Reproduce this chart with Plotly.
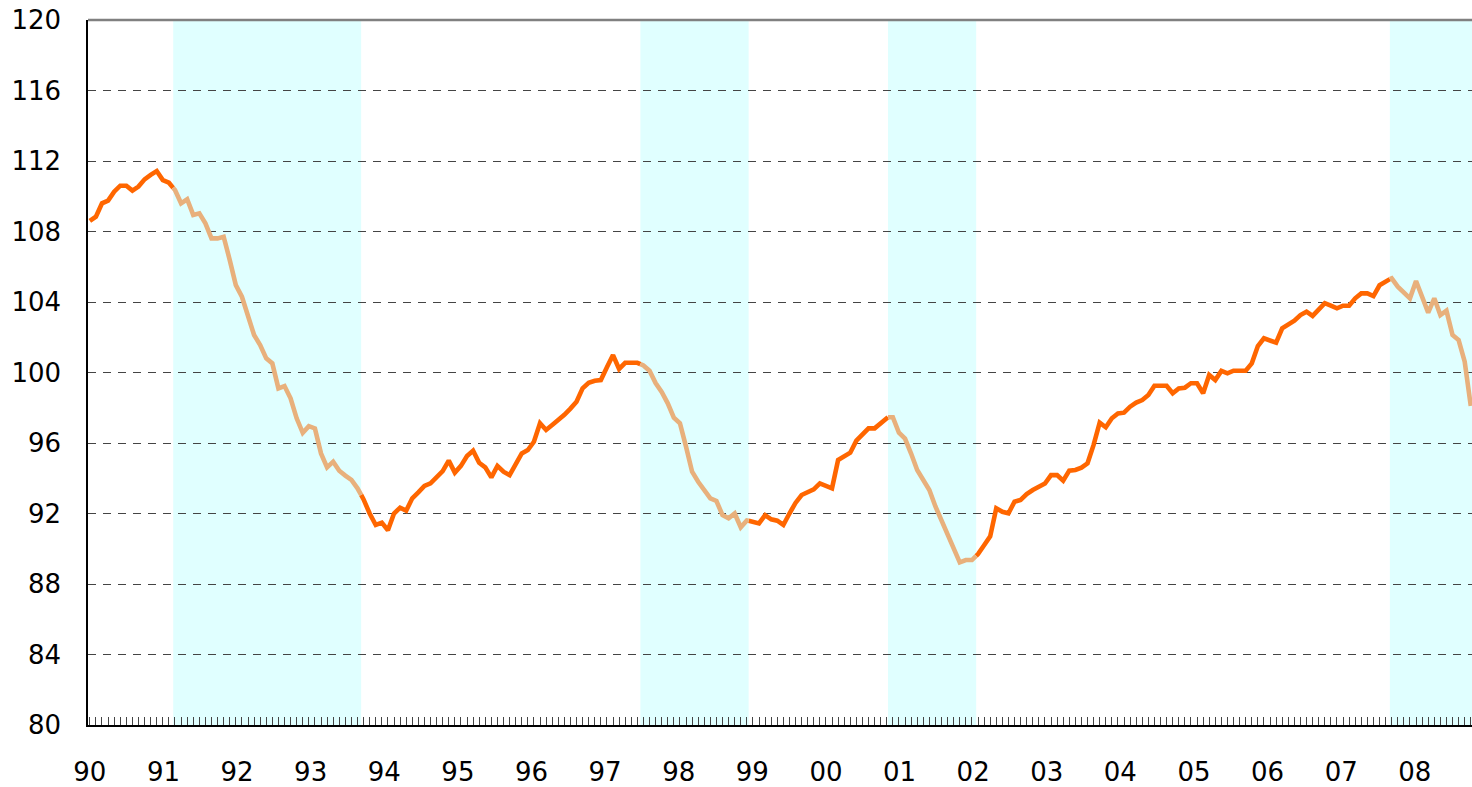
import numpy as np
import plotly.graph_objects as go

# Composite index, monthly, Jan 1990 - Dec 2008 (index 0 = 1990-01)
values = [
    108.6, 108.84, 109.6, 109.75, 110.26, 110.6, 110.6, 110.32, 110.55, 110.96, 111.21, 111.43,   # 1990
    110.92, 110.77, 110.35, 109.6, 109.83, 108.94, 109.03, 108.46, 107.61, 107.61, 107.7, 106.38,  # 1991
    104.96, 104.3, 103.17, 102.13, 101.56, 100.8, 100.52, 99.1, 99.23, 98.54, 97.4, 96.58,         # 1992
    96.96, 96.83, 95.41, 94.62, 94.94, 94.43, 94.15, 93.9, 93.43, 92.8, 92.0, 91.35,               # 1993
    91.48, 91.05, 92.0, 92.33, 92.16, 92.86, 93.2, 93.56, 93.71, 94.05, 94.4, 95.0,                # 1994
    94.32, 94.7, 95.26, 95.56, 94.88, 94.62, 94.05, 94.7, 94.37, 94.18, 94.8, 95.41,               # 1995
    95.6, 96.07, 97.12, 96.74, 97.02, 97.3, 97.6, 97.95, 98.34, 99.1, 99.42, 99.53,                # 1996
    99.57, 100.3, 100.99, 100.2, 100.55, 100.55, 100.55, 100.4, 100.1, 99.4, 98.9, 98.25,          # 1997
    97.44, 97.12, 95.79, 94.37, 93.8, 93.33, 92.86, 92.71, 91.91, 91.73, 92.0, 91.22,              # 1998
    91.6, 91.55, 91.44, 91.91, 91.67, 91.59, 91.35, 92.0, 92.6, 93.05, 93.24, 93.37,               # 1999
    93.71, 93.55, 93.43, 95.04, 95.25, 95.45, 96.13, 96.5, 96.83, 96.83, 97.15, 97.46,             # 2000
    97.46, 96.58, 96.25, 95.4, 94.47, 93.9, 93.33, 92.4, 91.6, 90.75, 89.87, 89.23,                # 2001
    89.36, 89.36, 89.7, 90.2, 90.7, 92.3, 92.1, 92.01, 92.67, 92.77, 93.1, 93.33,                  # 2002
    93.5, 93.7, 94.18, 94.18, 93.86, 94.43, 94.47, 94.6, 94.85, 95.89, 97.15, 96.89,               # 2003
    97.4, 97.68, 97.72, 98.06, 98.29, 98.44, 98.72, 99.25, 99.25, 99.25, 98.82, 99.1,              # 2004
    99.14, 99.39, 99.39, 98.82, 99.86, 99.57, 100.09, 99.95, 100.1, 100.1, 100.1, 100.52,          # 2005
    101.5, 101.94, 101.84, 101.69, 102.51, 102.7, 102.94, 103.26, 103.45, 103.21, 103.55, 103.93,  # 2006
    103.79, 103.64, 103.79, 103.79, 104.21, 104.49, 104.49, 104.34, 104.95, 105.2, 105.34, 104.87, # 2007
    104.5, 104.21, 105.19, 104.21, 103.4, 104.21, 103.26, 103.51, 102.13, 101.84, 100.61, 98.1,    # 2008
]

year_labels = ["90", "91", "92", "93", "94", "95", "96", "97", "98", "99",
               "00", "01", "02", "03", "04", "05", "06", "07", "08"]

# Recession periods (shaded), in month-index units
rec_start = [13.7, 90.5, 131.2, 213.7]
rec_end = [44.6, 108.3, 145.7, 227.5]

x = np.arange(len(values))
y = np.array(values)
last = x[-1]


def segment(s, e):
    s = max(s, 0)
    e = min(e, last)
    pts = [s] + [int(i) for i in x if s < i < e] + [e]
    return pts, list(np.interp(pts, x, y))


rx, ry = [], []
for s, e in zip(rec_start, rec_end):
    px, py = segment(s, e)
    rx += px + [None]
    ry += py + [None]

exp_bounds = [(0, rec_start[0])] + [(rec_end[i], rec_start[i + 1]) for i in range(len(rec_start) - 1)]
if rec_end[-1] < last:
    exp_bounds.append((rec_end[-1], last))
ex, ey = [], []
for s, e in exp_bounds:
    px, py = segment(s, e)
    ex += px + [None]
    ey += py + [None]

fig = go.Figure()
fig.add_trace(go.Scatter(x=ex, y=ey, mode="lines",
                         line=dict(color="#FF6600", width=4.6), hoverinfo="skip"))
fig.add_trace(go.Scatter(x=rx, y=ry, mode="lines",
                         line=dict(color="#E8B07C", width=4.6), hoverinfo="skip"))

for s, e in zip(rec_start, rec_end):
    fig.add_shape(type="rect", xref="x", yref="paper", x0=s, x1=e, y0=0, y1=1,
                  fillcolor="rgba(0,255,255,0.12)", line=dict(width=0), layer="between")

fig.add_shape(type="line", xref="paper", yref="paper", x0=0, x1=1, y0=1, y1=1,
              line=dict(color="#808080", width=2.5), layer="above")

fig.update_layout(
    width=1472, height=787,
    margin=dict(l=88, r=0, t=20, b=59),
    plot_bgcolor="white", paper_bgcolor="white",
    showlegend=False,
    font=dict(family="DejaVu Sans", size=26, color="black"),
)
fig.update_xaxes(
    range=[-0.3, 227.2],
    tickmode="array",
    tickvals=[12.1 * k for k in range(len(year_labels))],
    ticktext=year_labels,
    ticks="",
    showgrid=False, zeroline=False,
    showline=True, linecolor="black", linewidth=1.5,
    ticklabelstandoff=23,
    ticklabeloverflow="allow",
    minor=dict(tickmode="linear", tick0=0, dtick=1, ticks="inside",
               ticklen=8, tickwidth=1, tickcolor="#444444", showgrid=False),
)
fig.update_yaxes(
    range=[80, 120], tick0=80, dtick=4,
    showgrid=True, gridcolor="#444444", gridwidth=1, griddash="8px,7px",
    zeroline=False, ticks="",
    showline=True, linecolor="black", linewidth=1.5,
    ticklabelstandoff=20,
    ticklabeloverflow="allow",
)

fig.write_html(
    "out.html",
    config={"displayModeBar": False},
    post_script="document.body.style.margin='0';document.body.style.overflow='hidden';",
)
